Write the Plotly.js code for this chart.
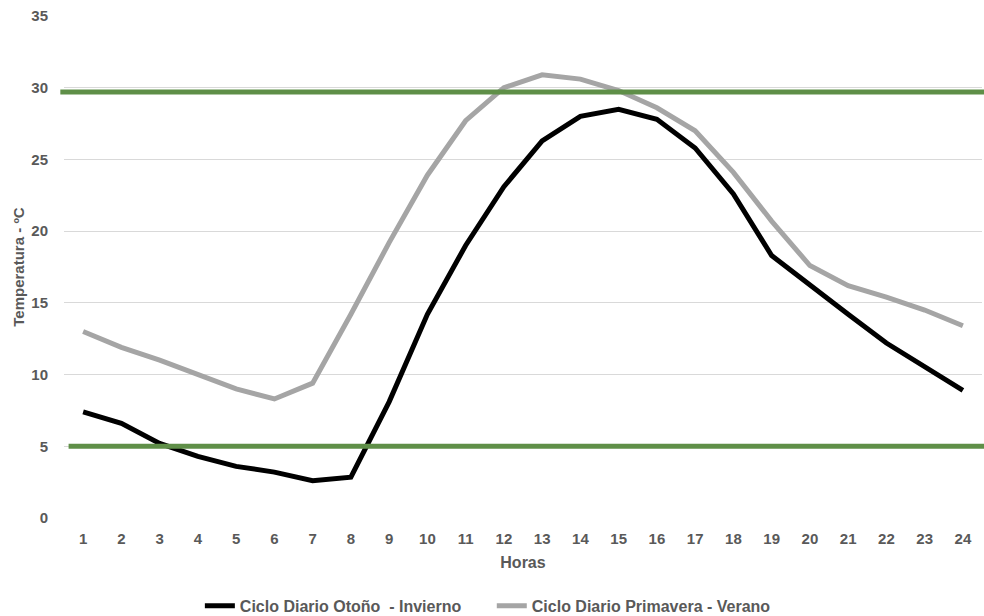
<!DOCTYPE html>
<html>
<head>
<meta charset="utf-8">
<script src="https://cdn.plot.ly/plotly-3.0.1.min.js"></script>
<style>
html,body{margin:0;padding:0;background:#fff;}
#chart{width:984px;height:616px;}
</style>
</head>
<body>
<div id="chart"></div>
<script>
const hours = ["1","2","3","4","5","6","7","8","9","10","11","12","13","14","15","16","17","18","19","20","21","22","23","24"];
const otonoInvierno = [7.4,6.6,5.2,4.3,3.6,3.2,2.6,2.85,8.1,14.2,19.0,23.1,26.3,28.0,28.5,27.8,25.8,22.6,18.3,16.2,14.2,12.2,10.5,8.9];
const primaveraVerano = [13.0,11.9,11.0,10.0,9.0,8.3,9.4,14.2,19.2,23.9,27.7,30.0,30.9,30.6,29.8,28.6,27.0,24.1,20.7,17.6,16.2,15.4,14.5,13.4];
const seriesNames = ["Ciclo Diario Otoño  - Invierno","Ciclo Diario Primavera - Verano"];
const upperLimit = 29.7;
const lowerLimit = 5.0;
const yTicks = [0,5,10,15,20,25,30,35];

const fontFamily = "Liberation Sans, Arial, sans-serif";
const textColor = "#595959";
const legendFont = {family: fontFamily, size: 16, color: textColor, weight: "bold"};

const traces = [
  {x: hours, y: otonoInvierno, name: seriesNames[0], type: "scatter", mode: "lines",
   line: {color: "#000000", width: 5}, legend: "legend"},
  {x: hours, y: primaveraVerano, name: seriesNames[1], type: "scatter", mode: "lines",
   line: {color: "#a5a5a5", width: 5}, legend: "legend2"}
];

const layout = {
  width: 984, height: 616,
  margin: {l: 64, r: 2, t: 16, b: 98, autoexpand: false},
  paper_bgcolor: "#ffffff", plot_bgcolor: "#ffffff",
  font: {family: fontFamily, color: textColor, size: 15},
  showlegend: true,
  legend: {orientation: "h", xref: "paper", x: 0.148, xanchor: "left",
           y: -0.175, yanchor: "middle", font: legendFont},
  legend2: {orientation: "h", xref: "paper", x: 0.466, xanchor: "left",
           y: -0.175, yanchor: "middle", font: legendFont},
  xaxis: {type: "category", range: [-0.5, 23.5], showgrid: false, zeroline: false, showline: false,
          ticks: "", ticklabelstandoff: 10, automargin: false,
          tickfont: {family: fontFamily, size: 15, color: textColor, weight: "bold"},
          title: {text: "Horas", font: {family: fontFamily, size: 16, color: textColor, weight: "bold"}, standoff: 10}},
  yaxis: {range: [0, 35], tickvals: yTicks, showgrid: true, gridcolor: "#d9d9d9", gridwidth: 1,
          zeroline: false, showline: false, ticks: "", ticklabelstandoff: 15, automargin: false,
          tickfont: {family: fontFamily, size: 15, color: textColor, weight: "bold"},
          title: {text: "Temperatura - ºC", font: {family: fontFamily, size: 15, color: textColor, weight: "bold"}}},
  shapes: [
    {type: "line", xref: "paper", yref: "y", x0: -0.004, x1: 1.003, y0: upperLimit, y1: upperLimit,
     line: {color: "#5f8f48", width: 5}},
    {type: "line", xref: "paper", yref: "y", x0: 0.005, x1: 1.003, y0: lowerLimit, y1: lowerLimit,
     line: {color: "#5f8f48", width: 5}}
  ]
};

Plotly.newPlot("chart", traces, layout, {displayModeBar: false, staticPlot: true});
</script>
</body>
</html>
